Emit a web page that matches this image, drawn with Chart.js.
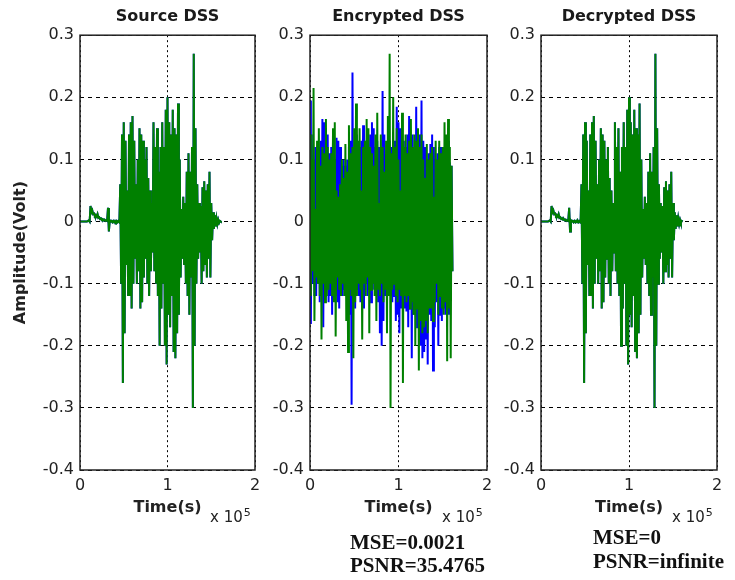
<!DOCTYPE html>
<html>
<head>
<meta charset="utf-8">
<title>DSS source / encrypted / decrypted</title>
<script src="https://cdn.jsdelivr.net/npm/chart.js@4.4.1/dist/chart.umd.min.js"></script>
<style>
    body { margin: 0; background: #fff; }
    #wrap { position: relative; width: 735px; height: 580px; overflow: hidden; }
    canvas { position: absolute; top: 0; }
    .exp { position: absolute; top: 506px; font: 15px 'DejaVu Sans', sans-serif; color: #222; white-space: nowrap; }
    .exp sup { font-size: 11px; vertical-align: 6px; margin-left: 1px; }
    .metric { position: absolute; font: bold 21px 'Liberation Serif', 'Times New Roman', serif; color: #111; white-space: nowrap; }
</style>
</head>
<body>
<div id="wrap">
    <canvas id="c-src" width="268" height="517" style="left:0px"></canvas>
    <canvas id="c-enc" width="242" height="517" style="left:258px"></canvas>
    <canvas id="c-dec" width="241" height="517" style="left:489px"></canvas>

    <div class="exp" style="left:210px">x 10<sup>5</sup></div>
    <div class="exp" style="left:442px">x 10<sup>5</sup></div>
    <div class="exp" style="left:672px">x 10<sup>5</sup></div>

    <div class="metric" style="left:350px; top:531px; line-height:23px">MSE=0.0021<br>PSNR=35.4765</div>
    <div class="metric" style="left:593px; top:525px; line-height:24px">MSE=0<br>PSNR=infinite</div>
</div>

<script>
// envelope samples every 0.02 x 10^5 s, from 0 to 1.6 x 10^5 s
const TIME_STEP = 0.02;

const X_TICKS = [0, 1, 2];
const Y_TICKS = [-0.4, -0.3, -0.2, -0.1, 0, 0.1, 0.2, 0.3];
const TITLES = ["Source DSS", "Encrypted DSS", "Decrypted DSS"];

// source speech signal: positive and negative excursions
const srcUp = [
    0, 0, 0, 0, 0, 0.002, 0.025, 0.018, 0.013, 0.010,
    0.012, 0.007, 0.005, 0.004, 0.003, 0.002, 0.022, 0.002, 0.001, 0.001,
    0.001, 0.001, 0.001, 0.06, 0.14, 0.16, 0.13, 0.05, 0.14, 0.16,
    0.17, 0.13, 0.06, 0.10, 0.15, 0.14, 0.13, 0.10, 0.12, 0.07,
    0.05, 0.03, 0.16, 0.12, 0.15, 0.08, 0.12, 0.16, 0.12, 0.18,
    0.20, 0.16, 0.14, 0.18, 0.15, 0.14, 0.19, 0.10, 0.02, 0.04,
    0.03, 0.08, 0.11, 0.08, 0.12, 0.27, 0.15, 0.06, 0.03, 0.025,
    0.055, 0.065, 0.05, 0.06, 0.08, 0.03, 0.015, 0.01, 0.005, 0.003, 0.001
];
const srcDown = [
    0, 0, 0, 0, 0, 0, 0.015, 0.012, 0.009, 0.008,
    0.006, 0.004, 0.003, 0.002, 0.001, 0.001, -0.016, 0, -0.001, -0.001,
    -0.001, -0.001, -0.001, -0.10, -0.26, -0.18, -0.07, -0.12, -0.12, -0.14,
    -0.10, -0.06, -0.10, -0.08, -0.14, -0.13, -0.09, -0.06, -0.10, -0.12,
    -0.08, -0.05, -0.08, -0.10, -0.12, -0.20, -0.14, -0.10, -0.20, -0.23,
    -0.15, -0.17, -0.12, -0.21, -0.22, -0.18, -0.15, -0.09, -0.06, -0.07,
    -0.10, -0.12, -0.15, -0.09, -0.30, -0.20, -0.10, -0.06, -0.05, -0.10,
    -0.08, -0.07, -0.09, -0.06, -0.09, -0.03, -0.012, -0.008, -0.004, -0.002, 0
];

// encrypted signal, blue trace
const encBlueUp = [
    0.195, 0.14, 0.10, 0.12, 0.10, 0.12, 0.13, 0.165, 0.16, 0.12,
    0.14, 0.11, 0.12, 0.14, 0.10, 0.135, 0.13, 0.12, 0.09, 0.10,
    0.09, 0.10, 0.12, 0.13, 0.24, 0.12, 0.14, 0.10, 0.12, 0.13,
    0.155, 0.12, 0.13, 0.12, 0.14, 0.16, 0.15, 0.12, 0.13, 0.12,
    0.11, 0.21, 0.14, 0.10, 0.12, 0.13, 0.12, 0.09, 0.13, 0.185,
    0.16, 0.15, 0.12, 0.13, 0.12, 0.14, 0.17, 0.13, 0.14, 0.12,
    0.185, 0.13, 0.14, 0.195, 0.13, 0.12, 0.10, 0.11, 0.125, 0.14,
    0.12, 0.10, 0.11, 0.12, 0.12, 0.10, 0.12, 0.11, 0.13, 0.095, 0.09
];
const encBlueDown = [
    -0.165, -0.10, -0.12, -0.12, -0.10, -0.13, -0.11, -0.17, -0.12, -0.10,
    -0.13, -0.12, -0.15, -0.11, -0.12, -0.13, -0.14, -0.10, -0.12, -0.11,
    -0.12, -0.13, -0.15, -0.295, -0.12, -0.14, -0.11, -0.12, -0.13, -0.12,
    -0.14, -0.10, -0.12, -0.11, -0.13, -0.11, -0.10, -0.12, -0.13, -0.18,
    -0.20, -0.16, -0.12, -0.13, -0.11, -0.12, -0.13, -0.12, -0.16, -0.15,
    -0.18, -0.14, -0.13, -0.14, -0.145, -0.17, -0.14, -0.22, -0.15, -0.14,
    -0.17, -0.16, -0.20, -0.22, -0.21, -0.19, -0.23, -0.15, -0.16, -0.24,
    -0.17, -0.13, -0.20, -0.15, -0.16, -0.14, -0.15, -0.13, -0.15, -0.12, -0.08
];

// encrypted signal, green trace
const encGreenUp = [
    0.14, 0.10, 0.215, 0.02, 0.13, 0.15, 0.09, 0.12, 0.11, 0.165,
    0.12, 0.10, 0.11, 0.15, 0.16, 0.05, 0.04, 0.06, 0.10, 0.07,
    0.125, 0.08, 0.155, 0.11, 0.12, 0.15, 0.19, 0.13, 0.15, 0.05,
    0.12, 0.13, 0.165, 0.15, 0.12, 0.11, 0.09, 0.14, 0.175, 0.03,
    0.14, 0.12, 0.08, 0.13, 0.17, 0.27, 0.11, 0.20, 0.12, 0.15,
    0.10, 0.05, 0.175, 0.12, 0.14, 0.11, 0.13, 0.165, 0.12, 0.14,
    0.13, 0.15, 0.12, 0.14, 0.10, 0.07, 0.125, 0.10, 0.11, 0.12,
    0.04, 0.13, 0.10, 0.13, 0.11, 0.12, 0.16, 0.14, 0.165, 0.12, 0.09
];
const encGreenDown = [
    -0.12, -0.08, -0.16, -0.09, -0.10, -0.12, -0.19, -0.10, -0.13, -0.12,
    -0.11, -0.10, -0.12, -0.13, -0.185, -0.09, -0.11, -0.12, -0.10, -0.12,
    -0.16, -0.21, -0.11, -0.12, -0.22, -0.13, -0.12, -0.10, -0.11, -0.19,
    -0.10, -0.12, -0.09, -0.18, -0.11, -0.10, -0.12, -0.16, -0.11, -0.12,
    -0.10, -0.13, -0.11, -0.18, -0.12, -0.30, -0.11, -0.10, -0.12, -0.13,
    -0.11, -0.12, -0.26, -0.12, -0.13, -0.12, -0.14, -0.13, -0.15, -0.20,
    -0.14, -0.24, -0.16, -0.18, -0.17, -0.16, -0.18, -0.14, -0.14, -0.16,
    -0.13, -0.10, -0.15, -0.12, -0.14, -0.15, -0.13, -0.225, -0.14, -0.22, -0.08
];

// decrypted signal is identical to the source (MSE = 0)
const decUp = srcUp;
const decDown = srcDown;

Chart.defaults.font.family = "'DejaVu Sans', sans-serif";
Chart.defaults.color = "#222";

// each sample pair becomes one up/down stroke of the trace
function trace(up, down) {
    const pts = [];
    up.forEach((v, i) => {
        const t = i * TIME_STEP;
        pts.push({ x: t, y: v });
        pts.push({ x: t + TIME_STEP / 2, y: down[i] });
    });
    return pts;
}

// matlab style closed box around the axes
const boxPlugin = {
    id: "box",
    afterDatasetsDraw(chart) {
        const { ctx, chartArea: a } = chart;
        ctx.save();
        ctx.setLineDash([]);
        ctx.strokeStyle = "#222";
        ctx.lineWidth = 1.5;
        ctx.strokeRect(a.left, a.top, a.right - a.left, a.bottom - a.top);
        ctx.restore();
    }
};

function makePanel(id, title, blue, green, yWidth, yTitle) {
    const ctx = document.getElementById(id).getContext("2d");
    return new Chart(ctx, {
        type: "line",
        data: {
            // first dataset is painted last, so green ends up over blue
            datasets: [
                { data: green, borderColor: "#008000", borderWidth: 2, pointRadius: 0, tension: 0 },
                { data: blue, borderColor: "#0000ff", borderWidth: 2, pointRadius: 0, tension: 0 }
            ]
        },
        options: {
            responsive: false,
            animation: false,
            events: [],
            layout: { padding: { right: 13 } },
            plugins: {
                legend: { display: false },
                tooltip: { enabled: false },
                title: {
                    display: true,
                    text: title,
                    fullSize: false,
                    color: "#1a1a1a",
                    font: { size: 16, weight: "bold" },
                    padding: { top: 7, bottom: 9 }
                }
            },
            scales: {
                x: {
                    type: "linear",
                    min: X_TICKS[0],
                    max: X_TICKS[X_TICKS.length - 1],
                    afterBuildTicks: s => { s.ticks = X_TICKS.map(v => ({ value: v })); },
                    afterFit: s => { s.height = 47; },
                    ticks: { padding: 6, font: { size: 16 }, callback: v => String(v) },
                    grid: { color: "#000", lineWidth: 1, drawTicks: false },
                    border: { display: false, dash: [2, 3] },
                    title: { display: true, text: "Time(s)", font: { size: 16, weight: "bold" }, padding: 0 }
                },
                y: {
                    min: Y_TICKS[0],
                    max: Y_TICKS[Y_TICKS.length - 1],
                    afterBuildTicks: s => { s.ticks = Y_TICKS.map(v => ({ value: v })); },
                    afterFit: s => { s.width = yWidth; },
                    ticks: { padding: 6, font: { size: 16 }, callback: v => (v === 0 ? "0" : v.toFixed(1)) },
                    grid: { color: "#000", lineWidth: 1, drawTicks: false },
                    border: { display: false, dash: [4, 4] },
                    title: {
                        display: !!yTitle,
                        text: yTitle || "",
                        font: { size: 16, weight: "bold" },
                        padding: { top: 11, bottom: 0 }
                    }
                }
            }
        },
        plugins: [boxPlugin]
    });
}

makePanel("c-src", TITLES[0], trace(srcUp, srcDown), trace(srcUp, srcDown), 80, "Amplitude(Volt)");
makePanel("c-enc", TITLES[1], trace(encBlueUp, encBlueDown), trace(encGreenUp, encGreenDown), 52);
makePanel("c-dec", TITLES[2], trace(srcUp, srcDown), trace(decUp, decDown), 52);
</script>
</body>
</html>
